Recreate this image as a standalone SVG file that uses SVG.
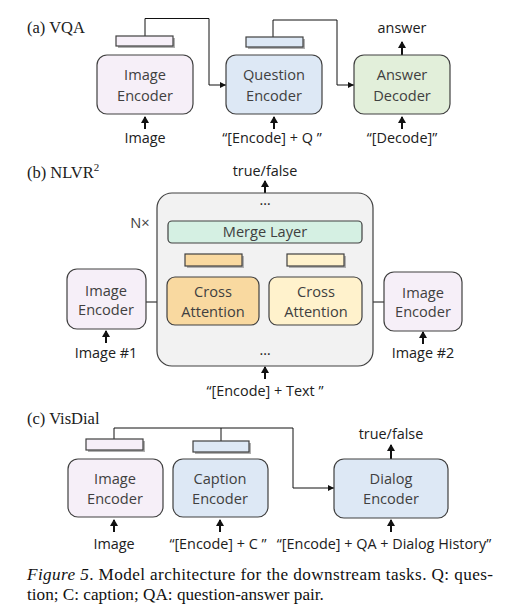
<svg xmlns="http://www.w3.org/2000/svg" width="525" height="616" viewBox="0 0 525 616">
<style>
.box{stroke:#404040;stroke-width:1.2}
.lav{fill:#f6eff8}.blu{fill:#dde8f5}.grn{fill:#e2efda}.mint{fill:#d5f0e3}.org{fill:#f9d9a0}.yel{fill:#fff2cc}
.t{font-family:"Open Sans","Noto Sans",sans-serif;font-size:14.6px;fill:#404040;text-anchor:middle}
.s{font-family:"Open Sans","Noto Sans",sans-serif;font-size:14.4px;fill:#202020;text-anchor:middle}
.ser{font-family:"Liberation Serif",serif;font-size:16.5px;fill:#202020}
.cap{font-family:"Liberation Serif",serif;font-size:17.2px;fill:#111}
.c{fill:none;stroke:#111;stroke-width:1}
.th{fill:none;stroke:#111;stroke-width:2}
.sh{fill:#b0b0b0}
</style>
<defs>
<marker id="a" markerUnits="userSpaceOnUse" markerWidth="7" markerHeight="6" refX="6" refY="3" orient="auto"><path d="M0,0 L6,3 L0,6 z" fill="#111"/></marker>
<marker id="b" markerUnits="userSpaceOnUse" markerWidth="8" markerHeight="8" refX="6" refY="4" orient="auto"><path d="M0,0 L7,4 L0,8 z" fill="#111"/></marker>
</defs>

<text class="ser" x="27" y="33">(a) VQA</text>
<text class="ser" x="27" y="178">(b) NLVR<tspan font-size="11" dy="-7">2</tspan></text>
<text class="ser" x="27" y="424">(c) VisDial</text>

<g id="connectors">
<path class="c" d="M145,36 V18.5 H209 V85 H226" marker-end="url(#a)"/>
<path class="c" d="M273,37 V20 H337 V85 H354" marker-end="url(#a)"/>
<path class="th" d="M145,129 V117" marker-end="url(#b)"/>
<path class="th" d="M274,129 V117" marker-end="url(#b)"/>
<path class="th" d="M402,129 V117" marker-end="url(#b)"/>
<path class="th" d="M402,55 V42" marker-end="url(#b)"/>

<path class="th" d="M265,193 V181" marker-end="url(#b)"/>
<path class="c" d="M265,221 V209" marker-end="url(#a)"/>
<path class="c" d="M213,254 V243" marker-end="url(#a)"/>
<path class="c" d="M317,254 V243" marker-end="url(#a)"/>
<path class="c" d="M213,277 V266" marker-end="url(#a)"/>
<path class="c" d="M317,277 V266" marker-end="url(#a)"/>
<path class="c" d="M146,302 H167" marker-end="url(#a)"/>
<path class="c" d="M384,302 H362" marker-end="url(#a)"/>
<path class="c" d="M265,347 V338 M213,338 H317"/>
<path class="c" d="M213,338 V325" marker-end="url(#a)"/>
<path class="c" d="M317,338 V325" marker-end="url(#a)"/>
<path class="th" d="M106,343 V331" marker-end="url(#b)"/>
<path class="th" d="M423,344 V332" marker-end="url(#b)"/>
<path class="th" d="M265,379 V367" marker-end="url(#b)"/>

<path class="c" d="M114,439 V428 H293 V488 H334" marker-end="url(#a)"/>
<path class="c" d="M221,441 V428"/>
<path class="th" d="M391,459 V445" marker-end="url(#b)"/>
<path class="th" d="M114,532 V520" marker-end="url(#b)"/>
<path class="th" d="M220,532 V520" marker-end="url(#b)"/>
<path class="th" d="M391,532 V520" marker-end="url(#b)"/>
</g>

<g id="a-image-bar"><rect class="sh" x="118" y="38" width="57" height="10"/><rect class="box lav" x="116" y="36" width="57" height="10"/></g>
<g id="a-question-bar"><rect class="sh" x="248" y="39" width="57" height="10"/><rect class="box blu" x="246" y="37" width="57" height="10"/></g>
<g id="a-image-encoder"><rect class="box lav" x="97" y="55" width="96" height="59" rx="10"/><text class="t" x="145" y="80">Image</text><text class="t" x="145" y="101">Encoder</text></g>
<g id="a-question-encoder"><rect class="box blu" x="226" y="55" width="96" height="59" rx="10"/><text class="t" x="274" y="80">Question</text><text class="t" x="274" y="101">Encoder</text></g>
<g id="a-answer-decoder"><rect class="box grn" x="354" y="55" width="96" height="59" rx="10"/><text class="t" x="402" y="80">Answer</text><text class="t" x="402" y="101">Decoder</text></g>
<text class="s" x="402" y="33">answer</text>
<text class="s" x="145" y="143">Image</text>
<text class="s" x="272" y="143">“[Encode] + Q ”</text>
<text class="s" x="402" y="143">“[Decode]”</text>

<g id="b-block"><rect class="box" fill="#f2f2f2" x="157" y="193" width="216" height="173" rx="15"/><text class="s" x="265" y="205">…</text><text class="s" x="265" y="355">…</text></g>
<text class="s" x="265" y="176">true/false</text>
<text class="t" x="140" y="228">N×</text>
<g id="b-merge"><rect class="box mint" x="168" y="221" width="194" height="22" rx="4"/><text class="t" x="265" y="237">Merge Layer</text></g>
<g id="b-bar-left"><rect class="sh" x="187" y="256" width="57" height="12"/><rect class="box org" x="185" y="254" width="57" height="12"/></g>
<g id="b-bar-right"><rect class="sh" x="289" y="256" width="57" height="12"/><rect class="box yel" x="287" y="254" width="57" height="12"/></g>
<g id="b-cross-left"><rect class="box org" x="167" y="277" width="92" height="48" rx="8"/><text class="t" x="213" y="297">Cross</text><text class="t" x="213" y="317">Attention</text></g>
<g id="b-cross-right"><rect class="box yel" x="269" y="277" width="93" height="48" rx="8"/><text class="t" x="316" y="297">Cross</text><text class="t" x="316" y="317">Attention</text></g>
<g id="b-image-encoder-1"><rect class="box lav" x="67" y="269" width="79" height="60" rx="10"/><text class="t" x="106" y="296">Image</text><text class="t" x="106" y="315">Encoder</text></g>
<g id="b-image-encoder-2"><rect class="box lav" x="384" y="272" width="78" height="59" rx="10"/><text class="t" x="423" y="298">Image</text><text class="t" x="423" y="317">Encoder</text></g>
<text class="s" x="106" y="358">Image #1</text>
<text class="s" x="423" y="358">Image #2</text>
<text class="s" x="265" y="396">“[Encode] + Text ”</text>

<g id="c-image-bar"><rect class="sh" x="88" y="441" width="57" height="11"/><rect class="box lav" x="86" y="439" width="57" height="11"/></g>
<g id="c-caption-bar"><rect class="sh" x="195" y="443" width="56" height="11"/><rect class="box blu" x="193" y="441" width="56" height="11"/></g>
<g id="c-image-encoder"><rect class="box lav" x="68" y="459" width="95" height="58" rx="10"/><text class="t" x="115" y="484">Image</text><text class="t" x="115" y="504">Encoder</text></g>
<g id="c-caption-encoder"><rect class="box blu" x="173" y="459" width="95" height="58" rx="10"/><text class="t" x="220" y="484">Caption</text><text class="t" x="220" y="504">Encoder</text></g>
<g id="c-dialog-encoder"><rect class="box blu" x="334" y="459" width="114" height="59" rx="10"/><text class="t" x="391" y="484">Dialog</text><text class="t" x="391" y="504">Encoder</text></g>
<text class="s" x="391" y="439">true/false</text>
<text class="s" x="114" y="549">Image</text>
<text class="s" x="218" y="549">“[Encode] + C ”</text>
<text class="s" x="384" y="549">“[Encode] + QA + Dialog History”</text>

<text class="cap" x="27" y="580" textLength="466" lengthAdjust="spacing"><tspan font-style="italic">Figure 5</tspan>. Model architecture for the downstream tasks.  Q: ques-</text>
<text class="cap" x="27" y="600">tion; C: caption; QA: question-answer pair.</text>
</svg>
